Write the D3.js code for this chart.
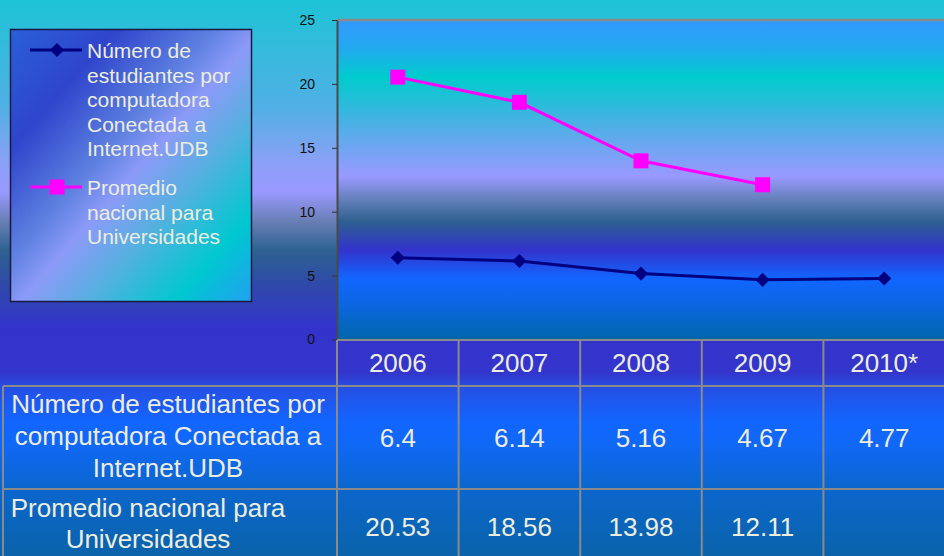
<!DOCTYPE html>
<html>
<head>
<meta charset="utf-8">
<script src="https://cdn.jsdelivr.net/npm/d3@7"></script>
<style>
  html, body { margin: 0; padding: 0; background: #1ec3d6; }
  svg { display: block; font-family: Arial, "Liberation Sans", sans-serif; }
</style>
</head>
<body>
<div id="drawing"></div>
<script>
var years = ["2006", "2007", "2008", "2009", "2010*"];
var udb = [6.4, 6.14, 5.16, 4.67, 4.77];
var nacional = [20.53, 18.56, 13.98, 12.11, null];
var yTicks = [0, 5, 10, 15, 20, 25];
var udbLabel = ["Número de estudiantes por", "computadora Conectada a", "Internet.UDB"];
var nacionalLabel = ["Promedio nacional para", "Universidades"];
var udbLegend = ["Número de", "estudiantes por", "computadora", "Conectada a", "Internet.UDB"];
var nacionalLegend = ["Promedio", "nacional para", "Universidades"];

var chart;
(function (chart) {
    var W = 944, H = 556;
    var plot = { left: 337, right: 945, top: 20, bottom: 339.5 };
    var textCol = "#ededdf", gridCol = "#8a8a8a";
    var svg;

    function gradient(defs, id, stops, x1, y1, x2, y2, units) {
        var g = defs.append("linearGradient").attr("id", id)
            .attr("x1", x1).attr("y1", y1).attr("x2", x2).attr("y2", y2);
        if (units) g.attr("gradientUnits", units);
        g.selectAll("stop").data(stops).enter().append("stop")
            .attr("offset", function (d) { return d[0]; })
            .attr("stop-color", function (d) { return d[1]; });
    }

    function main() {
        svg = d3.select("#drawing").append("svg").attr("width", W).attr("height", H);
        var defs = svg.append("defs");
        gradient(defs, "page", [
            [0, "#1ec3d6"], [0.19, "#4fb0e4"], [0.29, "#8aa0f5"], [0.345, "#9999ff"],
            [0.395, "#6c80b8"], [0.45, "#2e6290"], [0.51, "#2f4aa8"], [0.59, "#3333cc"],
            [0.67, "#3335cc"], [0.70, "#2550e6"], [0.76, "#1166ff"], [0.80, "#1068f6"],
            [0.88, "#0b66cc"], [1, "#0a63aa"]], 0, 0, 0, 1);
        gradient(defs, "plotbg", [
            [0, "#3399ff"], [0.09, "#22aaee"], [0.18, "#00cccc"], [0.28, "#33b8dd"],
            [0.38, "#66a8ee"], [0.49, "#9999ff"], [0.56, "#6680bb"], [0.63, "#2e6090"],
            [0.72, "#3333cc"], [0.81, "#1166ff"], [0.9, "#0b66dd"], [1, "#0066aa"]], 0, 0, 0, 1);
        gradient(defs, "legendbg", [
            [0, "#2a5fd8"], [0.22, "#2f45cc"], [0.42, "#5d80e0"], [0.52, "#8c9af8"],
            [0.66, "#55b0e0"], [0.84, "#00c8d0"], [1, "#22a0f0"]], 0, 0, 1, 1);

        svg.append("rect").attr("width", W).attr("height", H).attr("fill", "url(#page)");

        var x = d3.scaleBand().domain(years).range([plot.left, plot.right]);
        var y = d3.scaleLinear().domain([0, 25]).range([plot.bottom, plot.top]);

        // plot area
        svg.append("rect")
            .attr("x", plot.left).attr("y", plot.top)
            .attr("width", plot.right - plot.left).attr("height", plot.bottom - plot.top)
            .attr("fill", "url(#plotbg)");
        svg.append("line")
            .attr("x1", plot.left).attr("x2", plot.right)
            .attr("y1", plot.top).attr("y2", plot.top)
            .attr("stroke", gridCol).attr("stroke-width", 2.5);

        var axis = svg.append("g")
            .attr("transform", "translate(" + plot.left + ",0)")
            .call(d3.axisLeft(y).tickValues(yTicks).tickSize(5).tickPadding(17).tickSizeOuter(0));
        axis.select(".domain").attr("stroke", "#4a4a4a").attr("stroke-width", 2);
        axis.selectAll(".tick line").attr("stroke", "#333");
        axis.selectAll(".tick text").attr("fill", "#111").style("font-size", "14px")
            .style("font-family", "Arial, 'Liberation Sans', sans-serif");

        // series
        var cx = function (d, i) { return x(years[i]) + x.bandwidth() / 2; };
        var series = [
            { values: udb, color: "#000080", width: 3, marker: "diamond" },
            { values: nacional, color: "#ff00ff", width: 3, marker: "square" }
        ];
        var line = d3.line()
            .defined(function (d) { return d != null; })
            .x(cx).y(function (d) { return y(d); });
        series.forEach(function (s) {
            svg.append("path").datum(s.values)
                .attr("d", line).attr("fill", "none")
                .attr("stroke", s.color).attr("stroke-width", s.width);
            var pts = s.values.map(function (v, i) { return { v: v, i: i }; })
                .filter(function (p) { return p.v != null; });
            svg.append("g").selectAll("path").data(pts).enter().append("path")
                .attr("d", d3.symbol().type(d3.symbolSquare).size(s.marker == "square" ? 225 : 100))
                .attr("transform", function (p) {
                    return "translate(" + cx(null, p.i) + "," + y(p.v) + ")" +
                        (s.marker == "diamond" ? " rotate(45)" : "");
                })
                .attr("fill", s.color);
        });

        // legend
        var lg = svg.append("g");
        lg.append("rect").attr("x", 10.5).attr("y", 29.5).attr("width", 241).attr("height", 272)
            .attr("fill", "url(#legendbg)").attr("stroke", "#1a1a40").attr("stroke-width", 1.5);
        var entries = [
            { lines: udbLegend, s: series[0], y: 50, base: 58 },
            { lines: nacionalLegend, s: series[1], y: 187, base: 195 }
        ];
        entries.forEach(function (e) {
            lg.append("line").attr("x1", 30).attr("x2", 82).attr("y1", e.y).attr("y2", e.y)
                .attr("stroke", e.s.color).attr("stroke-width", e.s.width);
            lg.append("path")
                .attr("d", d3.symbol().type(d3.symbolSquare).size(e.s.marker == "square" ? 225 : 100))
                .attr("transform", "translate(57," + e.y + ")" + (e.s.marker == "diamond" ? " rotate(45)" : ""))
                .attr("fill", e.s.color);
            lg.selectAll(null).data(e.lines).enter().append("text")
                .attr("x", 87).attr("y", function (d, i) { return e.base + i * 24.6; })
                .attr("fill", textCol).style("font-size", "21px")
                .text(function (d) { return d; });
        });

        // data table
        var rows = [
            { top: 340, bottom: 386 },
            { top: 386, bottom: 489 },
            { top: 489, bottom: 600 }
        ];
        var tb = svg.append("g");
        var tableLeft = 3;
        // horizontal rules
        tb.append("line").attr("x1", plot.left).attr("x2", plot.right)
            .attr("y1", rows[0].top).attr("y2", rows[0].top);
        [rows[1].top, rows[2].top].forEach(function (yy) {
            tb.append("line").attr("x1", tableLeft).attr("x2", plot.right).attr("y1", yy).attr("y2", yy);
        });
        // vertical rules
        tb.append("line").attr("x1", tableLeft).attr("x2", tableLeft).attr("y1", rows[1].top).attr("y2", H);
        years.forEach(function (yr) {
            tb.append("line").attr("x1", x(yr)).attr("x2", x(yr)).attr("y1", rows[0].top).attr("y2", H);
        });
        tb.selectAll("line").attr("stroke", gridCol).attr("stroke-width", 2);

        var t = svg.append("g").attr("fill", textCol).style("font-size", "26px").attr("text-anchor", "middle");
        t.selectAll(".hdr").data(years).enter().append("text").attr("class", "hdr")
            .attr("x", function (d) { return x(d) + x.bandwidth() / 2; })
            .attr("y", 372).text(function (d) { return d; });
        t.selectAll(".v1").data(udb).enter().append("text").attr("class", "v1")
            .attr("x", cx).attr("y", 447).text(function (d) { return d; });
        t.selectAll(".v2").data(nacional).enter().append("text").attr("class", "v2")
            .attr("x", cx).attr("y", 536).text(function (d) { return d == null ? "" : d; });
        t.selectAll(".l1").data(udbLabel).enter().append("text").attr("class", "l1")
            .attr("x", 168).attr("y", function (d, i) { return 413 + i * 32; }).text(function (d) { return d; });
        t.selectAll(".l2").data(nacionalLabel).enter().append("text").attr("class", "l2")
            .attr("x", 148).attr("y", function (d, i) { return 517 + i * 31; }).text(function (d) { return d; });
    }
    chart.main = main;
})(chart || (chart = {}));
chart.main();
</script>
</body>
</html>
